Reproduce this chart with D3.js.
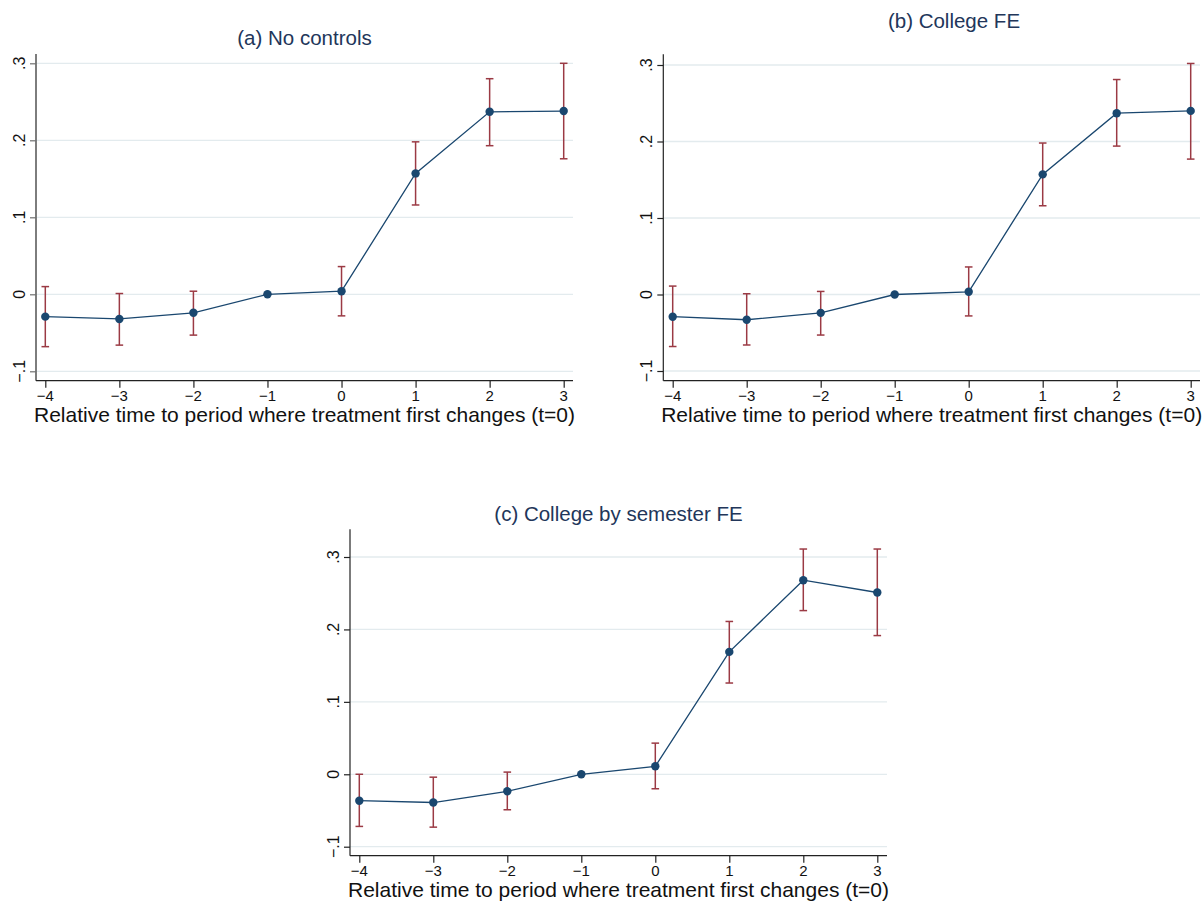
<!DOCTYPE html>
<html><head><meta charset="utf-8">
<script src="https://cdn.jsdelivr.net/npm/d3@7"></script>
<style>
body{margin:0;background:#fff}
svg{display:block}
text{font-family:"Liberation Sans",Arial,Helvetica,sans-serif}
</style>
</head><body>
<svg id="chart" width="1204" height="901"></svg>
<script>
// ---------------- data ----------------
const periods = [-4, -3, -2, -1, 0, 1, 2, 3];
const periodLabels = ["\u22124", "\u22123", "\u22122", "\u22121", "0", "1", "2", "3"];
const yTickValues = [-0.1, 0, 0.1, 0.2, 0.3];
const yTickLabels = ["\u2212.1", "0", ".1", ".2", ".3"];
const panelTitles = ["(a) No controls", "(b) College FE", "(c) College by semester FE"];
const xAxisTitle = "Relative time to period where treatment first changes (t=0)";

// (a) No controls
const estA = [-0.029, -0.032, -0.024, 0, 0.004, 0.157, 0.237, 0.238];
const loA  = [-0.068, -0.066, -0.053, 0, -0.028, 0.116, 0.193, 0.176];
const hiA  = [0.010, 0.001, 0.004, 0, 0.036, 0.198, 0.280, 0.300];
// (b) College FE
const estB = [-0.029, -0.033, -0.024, 0, 0.0035, 0.157, 0.237, 0.240];
const loB  = [-0.068, -0.066, -0.053, 0, -0.028, 0.116, 0.194, 0.177];
const hiB  = [0.011, 0.001, 0.004, 0, 0.036, 0.198, 0.281, 0.302];
// (c) College by semester FE
const estC = [-0.0365, -0.039, -0.0235, 0, 0.011, 0.169, 0.268, 0.251];
const loC  = [-0.072, -0.073, -0.049, 0, -0.020, 0.126, 0.226, 0.1915];
const hiC  = [0.000, -0.004, 0.003, 0, 0.043, 0.211, 0.311, 0.311];

const seriesSets = [[estA, loA, hiA], [estB, loB, hiB], [estC, loC, hiC]];

// ---------------- layout / style ----------------
const layout = [
  {x0: 36,    x1: 573,  y0: 54,    y1: 380.7, xFirst: 45.3,  xLast: 563.7,  yLow: 371.3, yHigh: 63.3, titleX: 304.5, titleY: 45,    axisColor: "#6f6f6f", yAxisW: 1.8},
  {x0: 663.3, x1: 1200, y0: 54.3,  y1: 380.7, xFirst: 672.7, xLast: 1190.7, yLow: 371,   yHigh: 65,   titleX: 954,   titleY: 28.3,  axisColor: "#222",    yAxisW: 1.2},
  {x0: 350,   x1: 887,  y0: 529.3, y1: 855.7, xFirst: 359.3, xLast: 877.3,  yLow: 846.7, yHigh: 557,  titleX: 618.5, titleY: 520.7, axisColor: "#222",    yAxisW: 1.2}
];
const navy = "#1a476f", maroon = "#9b3a44", gridColor = "#e3ebee", titleColor = "#22365a";

const svg = d3.select("#chart");
svg.append("rect").attr("width", 1204).attr("height", 901).attr("fill", "#fff");

layout.forEach((L, p) => {
  const [est, lo, hi] = seriesSets[p];
  const data = periods.map((t, i) => ({t, est: est[i], lo: lo[i], hi: hi[i]}));
  const x = d3.scaleLinear().domain([periods[0], periods[periods.length - 1]]).range([L.xFirst, L.xLast]);
  const y = d3.scaleLinear().domain([yTickValues[0], yTickValues[yTickValues.length - 1]]).range([L.yLow, L.yHigh]);
  const g = svg.append("g");

  // gridlines
  g.append("g").selectAll("line").data(yTickValues).join("line")
    .attr("x1", L.x0).attr("x2", L.x1)
    .attr("y1", d => y(d)).attr("y2", d => y(d))
    .attr("stroke", gridColor).attr("stroke-width", 1.3);

  // y axis (ticks from d3 axis, labels drawn as plain text)
  const ya = g.append("g").attr("transform", `translate(${L.x0},0)`)
    .call(d3.axisLeft(y).tickValues(yTickValues).tickFormat("").tickSize(6).tickSizeOuter(0));
  ya.select(".domain").remove();
  ya.selectAll(".tick line").attr("stroke", L.axisColor).attr("stroke-width", 1.2);
  ya.selectAll(".tick text").remove();
  g.append("g").selectAll("text").data(yTickValues).join("text")
    .attr("transform", d => `translate(${L.x0 - 11.5},${y(d)}) rotate(-90)`)
    .attr("text-anchor", "middle")
    .attr("fill", "#111")
    .style("font-size", "16px")
    .text((d, i) => yTickLabels[i]);
  g.append("line").attr("x1", L.x0).attr("x2", L.x0).attr("y1", L.y0).attr("y2", L.y1)
    .attr("stroke", L.axisColor).attr("stroke-width", L.yAxisW);

  // x axis
  const xa = g.append("g").attr("transform", `translate(0,${L.y1})`)
    .call(d3.axisBottom(x).tickValues(periods).tickFormat("").tickSize(7).tickSizeOuter(0));
  xa.select(".domain").remove();
  xa.selectAll(".tick line").attr("stroke", "#222").attr("stroke-width", 1.2);
  xa.selectAll(".tick text").remove();
  g.append("g").selectAll("text").data(periods).join("text")
    .attr("x", d => x(d)).attr("y", L.y1 + 20.5)
    .attr("text-anchor", "middle")
    .attr("fill", "#111")
    .style("font-size", "15px")
    .text((d, i) => periodLabels[i]);
  g.append("line").attr("x1", L.x0).attr("x2", L.x1).attr("y1", L.y1).attr("y2", L.y1)
    .attr("stroke", "#222").attr("stroke-width", 1.3);

  // axis title
  g.append("text").attr("x", (L.x0 + L.x1) / 2).attr("y", L.y1 + 41.5)
    .attr("text-anchor", "middle").attr("fill", "#111").style("font-size", "21px")
    .text(xAxisTitle);

  // panel title
  g.append("text").attr("x", L.titleX).attr("y", L.titleY)
    .attr("text-anchor", "middle").attr("fill", titleColor).style("font-size", "20.5px")
    .text(panelTitles[p]);

  // error bars
  const eb = g.append("g").attr("stroke", maroon).attr("stroke-width", 1.5).attr("fill", "none");
  eb.selectAll("line.v").data(data).join("line").attr("class", "v")
    .attr("x1", d => x(d.t)).attr("x2", d => x(d.t)).attr("y1", d => y(d.lo)).attr("y2", d => y(d.hi));
  eb.selectAll("line.ct").data(data).join("line").attr("class", "ct")
    .attr("x1", d => x(d.t) - 3.8).attr("x2", d => x(d.t) + 3.8).attr("y1", d => y(d.hi)).attr("y2", d => y(d.hi));
  eb.selectAll("line.cb").data(data).join("line").attr("class", "cb")
    .attr("x1", d => x(d.t) - 3.8).attr("x2", d => x(d.t) + 3.8).attr("y1", d => y(d.lo)).attr("y2", d => y(d.lo));

  // connected line
  g.append("path").datum(data)
    .attr("d", d3.line().x(d => x(d.t)).y(d => y(d.est)))
    .attr("fill", "none").attr("stroke", navy).attr("stroke-width", 1.3);

  // markers
  g.append("g").selectAll("circle").data(data).join("circle")
    .attr("cx", d => x(d.t)).attr("cy", d => y(d.est)).attr("r", 4.2)
    .attr("fill", navy);
});
</script>
</body></html>
